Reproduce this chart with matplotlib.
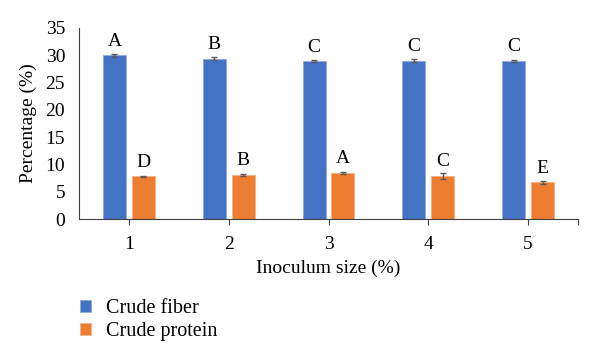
import matplotlib
matplotlib.use("Agg")
import matplotlib.pyplot as plt
import numpy as np

categories = ["1", "2", "3", "4", "5"]
fiber = [30.0, 29.4, 28.9, 29.0, 29.0]
fiber_err = [0.25, 0.25, 0.2, 0.3, 0.2]
protein = [7.8, 8.1, 8.4, 7.9, 6.7]
protein_err = [0.1, 0.15, 0.15, 0.6, 0.2]
fiber_letters = ["A", "B", "C", "C", "C"]
protein_letters = ["D", "B", "A", "C", "E"]

plt.rcParams['font.family'] = ['Liberation Serif', 'DejaVu Serif']

fig = plt.figure(figsize=(6.0, 3.61), dpi=100)
ax = fig.add_axes([79/600, 1-219/361, (578-79)/600, (219-28)/361])

x = np.arange(len(categories)) + 0.5
w = 0.23
off = 0.145
blue = "#4472C4"
orange = "#ED7D31"
ax.bar(x - off, fiber, w, color=blue, edgecolor="#8FAADC", linewidth=0.6,
       yerr=fiber_err, error_kw=dict(ecolor="#595959", elinewidth=1, capsize=2.5, capthick=1),
       label="Crude fiber", zorder=2)
ax.bar(x + off, protein, w, color=orange, edgecolor="#F4B183", linewidth=0.6,
       yerr=protein_err, error_kw=dict(ecolor="#595959", elinewidth=1, capsize=2.5, capthick=1),
       label="Crude protein", zorder=2)

for xi, v, t in zip(x - off, fiber, fiber_letters):
    ax.text(xi, v + 2.6, t, ha="center", va="center", fontsize=14)
for xi, v, t in zip(x + off, protein, protein_letters):
    ax.text(xi, v + 2.6, t, ha="center", va="center", fontsize=14)

ax.set_xlim(0, 5)
ax.set_ylim(0, 35)
ax.set_yticks(range(0, 36, 5))
ax.set_xticks(list(x) + [5.0])
ax.set_xticklabels(categories + [""])
ax.tick_params(axis="y", length=0, labelsize=14, pad=10)
ax.tick_params(axis="x", direction="out", length=4, width=0.8, labelsize=14, pad=8, color="#404040")
for s in ["top", "right"]:
    ax.spines[s].set_visible(False)
ax.spines["left"].set_color("#404040")
ax.spines["bottom"].set_color("#404040")
ax.set_ylabel("Percentage (%)", fontsize=14, labelpad=6)
ax.set_xlabel("Inoculum size (%)", fontsize=14, labelpad=5)

handles, labels = ax.get_legend_handles_labels()
leg = fig.legend(handles, labels, loc="upper left", bbox_to_anchor=(66/600, 1-285/361),
                 frameon=False, fontsize=14.5, handlelength=0.55, handleheight=0.55,
                 handletextpad=0.75, labelspacing=0.2, borderpad=0.2)

fig.savefig("out.png", dpi=100)
